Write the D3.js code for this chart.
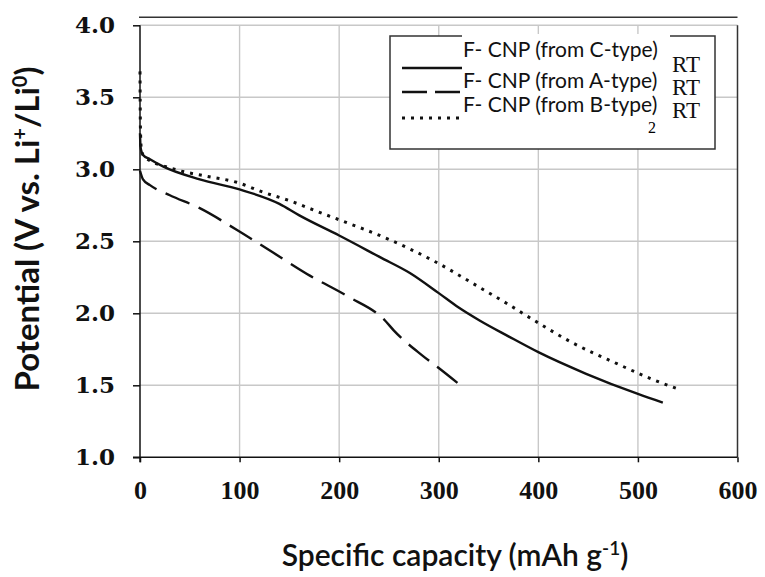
<!DOCTYPE html>
<html>
<head>
<meta charset="utf-8">
<script src='https://d3js.org/d3.v7.min.js'></script>
<style>
    body { margin: 0; background: white; }
    svg { display: block; }
</style>
</head>
<body>
<svg width=765 height=577></svg>
<script>
    // capacity (mAh/g) and potential (V)
    var cCap = [0, 0.4, 1.2, 3, 10, 23, 60, 100, 140, 160, 200, 241, 271, 300, 320, 341, 370, 400, 448, 500, 525];
    var cV = [3.25, 3.17, 3.13, 3.1, 3.07, 3.02, 2.93, 2.86, 2.76, 2.68, 2.54, 2.39, 2.28, 2.14, 2.04, 1.95, 1.84, 1.73, 1.58, 1.44, 1.38];

    var aCap = [0, 3, 10, 30, 60, 97, 134, 171, 208, 246, 255, 283, 300, 320];
    var aV = [2.99, 2.93, 2.89, 2.82, 2.73, 2.58, 2.42, 2.26, 2.12, 1.95, 1.88, 1.71, 1.62, 1.51];

    var bCap = [0, 0.4, 1.2, 3, 10, 25, 40, 68, 97, 124, 151, 177, 196, 251, 296, 341, 368, 396, 433, 479, 515, 542];
    var bV = [3.68, 3.3, 3.15, 3.1, 3.06, 3.02, 2.99, 2.95, 2.91, 2.84, 2.78, 2.71, 2.66, 2.51, 2.36, 2.18, 2.07, 1.95, 1.8, 1.65, 1.54, 1.47];

    var xTicks = [0, 100, 200, 300, 400, 500, 600];
    var yTicks = [1.0, 1.5, 2.0, 2.5, 3.0, 3.5, 4.0];
    var legendNames = ['F- CNP (from C-type)', 'F- CNP (from A-type)', 'F- CNP (from B-type)'];
    var dashes = [null, '26,10', '3,6'];

    var xs = d3.scaleLinear().domain([0, 600]).range([140, 737.5]);
    var ys = d3.scaleLinear().domain([1, 4]).range([457.3, 25.3]);

    var svg = d3.select('svg');

    // grid
    svg.append('g').selectAll('line').data(xTicks.slice(1, 6)).enter().append('line')
        .attr('x1', d => xs(d)).attr('x2', d => xs(d))
        .attr('y1', ys(4)).attr('y2', ys(1))
        .attr('stroke', '#c8c8c8').attr('stroke-width', 1.4);
    svg.append('g').selectAll('line').data(yTicks.slice(1)).enter().append('line')
        .attr('x1', xs(0)).attr('x2', xs(600))
        .attr('y1', d => ys(d)).attr('y2', d => ys(d))
        .attr('stroke', '#c8c8c8').attr('stroke-width', 1.4);

    // frame bits: top line and right edge
    svg.append('line').attr('x1', xs(0) - 1).attr('x2', xs(600))
        .attr('y1', 17.3).attr('y2', 17.3).attr('stroke', '#333').attr('stroke-width', 1.5);
    svg.append('line').attr('x1', xs(600)).attr('x2', xs(600))
        .attr('y1', ys(4)).attr('y2', ys(1)).attr('stroke', '#333').attr('stroke-width', 1.5);

    // axes
    var yAxis = svg.append('g')
        .attr('transform', 'translate(' + xs(0) + ',0)')
        .call(d3.axisLeft(ys).tickValues(yTicks).tickSize(7).tickFormat(d3.format('.1f')));
    yAxis.selectAll('text')
        .attr('x', -25)
        .style('font-family', '"DejaVu Serif"').style('font-weight', 'bold')
        .style('font-size', '23px').attr('fill', '#111');

    var xAxis = svg.append('g')
        .attr('transform', 'translate(0,' + ys(1) + ')')
        .call(d3.axisBottom(xs).tickValues(xTicks).tickSize(5).tickPadding(0).tickFormat(d3.format('d')));
    xAxis.selectAll('text')
        .attr('y', 33).attr('dy', '0.34em')
        .style('font-family', '"Liberation Serif"').style('font-weight', 'bold')
        .style('font-size', '26px').attr('fill', '#111');
    xAxis.select('.domain').attr('d', 'M133,0H' + xs(600));
    yAxis.select('.domain').attr('d', 'M0,' + ys(4) + 'V' + (ys(1) + 5));
    svg.selectAll('.domain, .tick line').attr('stroke', '#111').attr('stroke-width', 1.5);

    // curves
    var line = d3.line().x(d => xs(d[0])).y(d => ys(d[1])).curve(d3.curveMonotoneX);
    var series = [d3.zip(cCap, cV), d3.zip(aCap, aV), d3.zip(bCap, bV)];
    svg.append('g').selectAll('path').data(series).enter().append('path')
        .attr('d', line)
        .attr('fill', 'none').attr('stroke', '#111')
        .attr('stroke-width', (d, i) => i == 2 ? 3 : 2.4)
        .attr('stroke-dasharray', (d, i) => dashes[i]);

    // legend
    var lg = svg.append('g');
    lg.append('rect').attr('x', 390).attr('y', 36).attr('width', 325).attr('height', 113)
        .attr('fill', 'white').attr('stroke', '#333').attr('stroke-width', 1.5);
    lg.append('text').attr('x', 648).attr('y', 133)
        .style('font-family', '"Liberation Serif"').style('font-size', '16px').text('2');
    lg.append('rect').attr('x', 462).attr('y', 34).attr('width', 208).attr('height', 86).attr('fill', 'white');
    var rows = [68, 92, 118];
    var textY = [57, 88, 112];
    lg.selectAll('.sample').data(rows).enter().append('line')
        .attr('x1', 402).attr('x2', 462)
        .attr('y1', d => d).attr('y2', d => d)
        .attr('stroke', '#111')
        .attr('stroke-width', (d, i) => i == 2 ? 3 : 2.4)
        .attr('stroke-dasharray', (d, i) => i == 1 ? '25,8' : dashes[i]);
    lg.selectAll('.name').data(legendNames).enter().append('text')
        .attr('x', 463).attr('y', (d, i) => textY[i])
        .style('font-family', 'Lato').style('font-size', '21px').attr('fill', '#111')
        .text(d => d);
    lg.selectAll('.rt').data(rows).enter().append('text')
        .attr('x', 672).attr('y', (d, i) => [72, 95, 118][i])
        .style('font-family', '"Liberation Serif"').style('font-size', '23px').attr('fill', '#111')
        .text('RT');

    // axis titles
    var xt = svg.append('text')
        .attr('x', 455).attr('y', 566).attr('text-anchor', 'middle')
        .style('font-family', 'Lato').style('font-size', '30px').style('font-weight', '600').attr('fill', '#111');
    xt.append('tspan').text('Specific capacity (mAh g');
    xt.append('tspan').attr('dy', -11).style('font-size', '19px').text('-1');
    xt.append('tspan').attr('dy', 11).text(')');

    var yt = svg.append('text')
        .attr('transform', 'translate(39,229) rotate(-90)').attr('text-anchor', 'middle')
        .style('font-family', 'Lato').style('font-size', '33px').style('font-weight', 'bold').attr('fill', '#111');
    yt.append('tspan').text('Potential (V vs. Li');
    yt.append('tspan').attr('dy', -12).style('font-size', '20px').text('+');
    yt.append('tspan').attr('dy', 12).text('/Li');
    yt.append('tspan').attr('dy', -12).style('font-size', '20px').text('0');
    yt.append('tspan').attr('dy', 12).text(')');
</script>
</body>
</html>
